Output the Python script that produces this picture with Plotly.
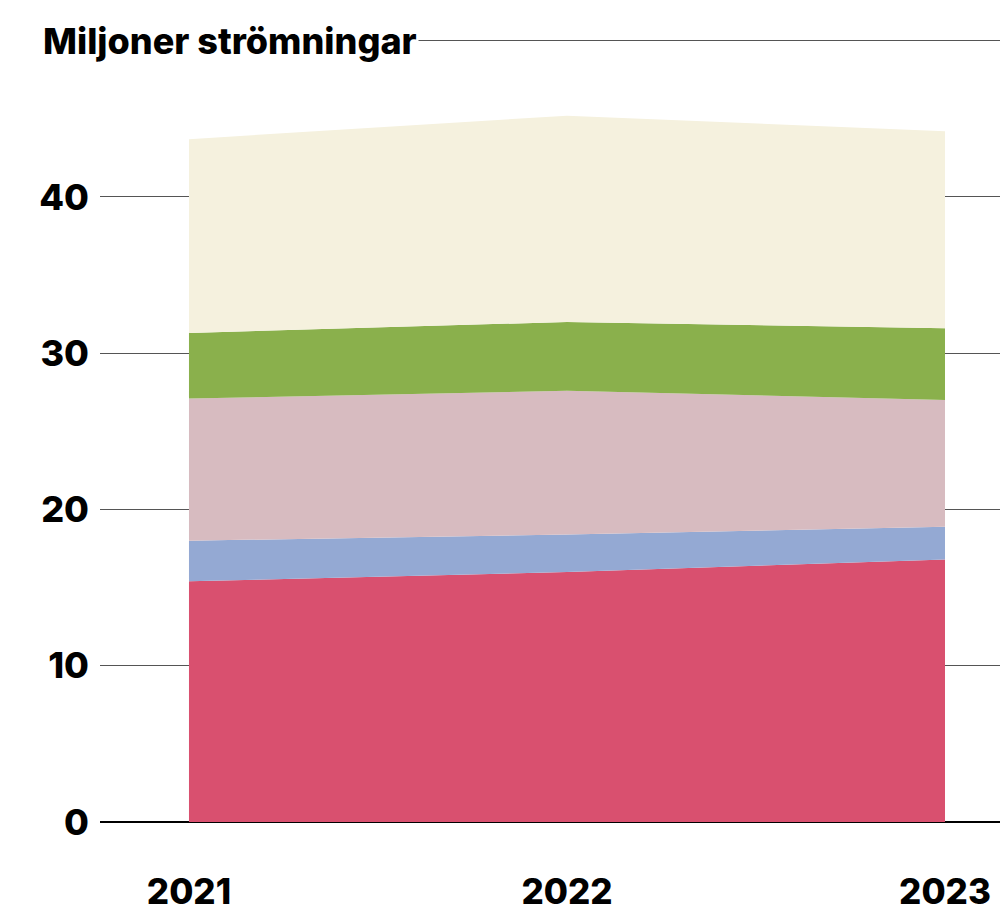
import plotly.graph_objects as go

years = [2021, 2022, 2023]
year_labels = ["2021", "2022", "2023"]

# Streams per category, millions (stacked bottom to top)
red_series = [15.4, 16.0, 16.8]
blue_series = [2.6, 2.4, 2.1]
pink_series = [9.1, 9.2, 8.1]
green_series = [4.2, 4.4, 4.6]
cream_series = [12.4, 13.2, 12.6]

y_ticks = [0, 10, 20, 30, 40, 50]
y_tick_text = ["0", "10", "20", "30", "40", ""]

layers = [
    (red_series, "#D9506F"),
    (blue_series, "#94A9D3"),
    (pink_series, "#D7BBC0"),
    (green_series, "#8AB04C"),
    (cream_series, "#F5F1DE"),
]

fig = go.Figure()
for values, color in layers:
    fig.add_trace(go.Scatter(
        x=years, y=values, mode="lines", stackgroup="s",
        line=dict(width=0, color=color), fillcolor=color,
        hoverinfo="skip", showlegend=False,
    ))

font_family = "Inter, Roboto, sans-serif"

fig.update_layout(
    width=1000, height=912,
    margin=dict(l=100, r=0, t=36, b=90),
    paper_bgcolor="white", plot_bgcolor="white",
    font=dict(family=font_family, color="black"),
    xaxis=dict(
        range=[2020.7646, 2023.1455],
        tickvals=years, ticktext=year_labels,
        showgrid=False, zeroline=False, showline=False,
        ticks="", ticklabelstandoff=46, automargin=False,
        tickfont=dict(size=35, weight=800),
        fixedrange=True,
    ),
    yaxis=dict(
        range=[0, 50.3],
        tickvals=y_ticks, ticktext=y_tick_text,
        showgrid=True, gridcolor="#555555", gridwidth=1,
        zeroline=True, zerolinecolor="black", zerolinewidth=2,
        showline=False, ticks="", ticklabelstandoff=10, automargin=False,
        tickfont=dict(size=36, weight=800),
        fixedrange=True,
    ),
)

fig.add_annotation(
    text="Miljoner strömningar",
    xref="paper", yref="y", x=-0.066, y=50,
    xanchor="left", yanchor="middle",
    showarrow=False, bgcolor="white", borderpad=1,
    font=dict(family=font_family, size=36, weight=800, color="black"),
)

fig.write_html("out.html")
